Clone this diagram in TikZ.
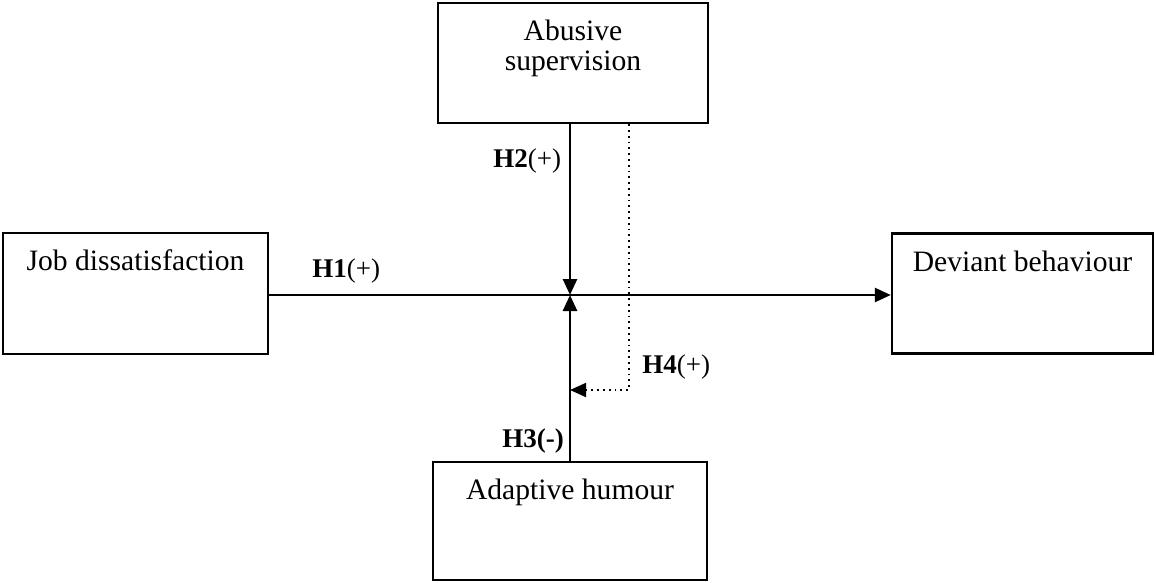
\documentclass[tikz,border=0pt]{standalone}
\usepackage{fontspec}
\setmainfont{Liberation Serif}
\usetikzlibrary{arrows.meta}
\tikzset{
	box/.style={draw, line width=1.2pt, inner sep=0pt},
	hyp/.style={anchor=base west, inner sep=0pt, font=\fontsize{13.5}{16}\selectfont},
	link/.style={line width=1.3pt, -{Triangle[length=8pt,width=7pt]}},
	dotlink/.style={dotted, line width=0.9pt, -{Triangle[length=8pt,width=7pt]}},
}
\begin{document}
\begin{tikzpicture}[x=0.5pt, y=-0.5pt, font=\fontsize{14.8}{15}\selectfont]
	\useasboundingbox (0,0) rectangle (1156,583);
	\node[box, minimum width=132.5pt, minimum height=60.5pt] (job) at (135.5,293.5) {};
	\node[box, minimum width=135pt, minimum height=60pt] (abusive) at (573,63) {};
	\node[box, minimum width=130.5pt, minimum height=60pt] (deviant) at (1022.5,293.5) {};
	\node[box, minimum width=137pt, minimum height=59pt] (adaptive) at (570,521) {};

	\node[anchor=base] (jobtext) at ([yshift=-19.5pt]job.north) {Job dissatisfaction};
	\node[anchor=base, align=center] (abusivetext) at ([yshift=-34.4pt]abusive.north) {Abusive\\supervision};
	\node[anchor=base] (devianttext) at ([yshift=-19.5pt]deviant.north) {Deviant behaviour};
	\node[anchor=base] (adaptivetext) at ([yshift=-19.5pt]adaptive.north) {Adaptive humour};

	\coordinate (c) at (570,295);
	\coordinate (d) at (629,390);
	\draw[link] (job.east |- c) -- (deviant.west |- c);
	\draw[link] (abusive.south -| c) -- (c);
	\draw[link] (adaptive.north -| c) -- (c);
	\draw[dotlink] (abusive.south -| d) -- (d) -- (d -| c);

	\node[hyp] (h1) at (312,277) {\bfseries H1\mdseries(+)};
	\node[hyp] (h2) at (493,167) {\bfseries H2\mdseries(+)};
	\node[hyp] (h3) at (502,447) {\bfseries H3(-)};
	\node[hyp] (h4) at (642,373) {\bfseries H4\mdseries(+)};
\end{tikzpicture}
\end{document}
